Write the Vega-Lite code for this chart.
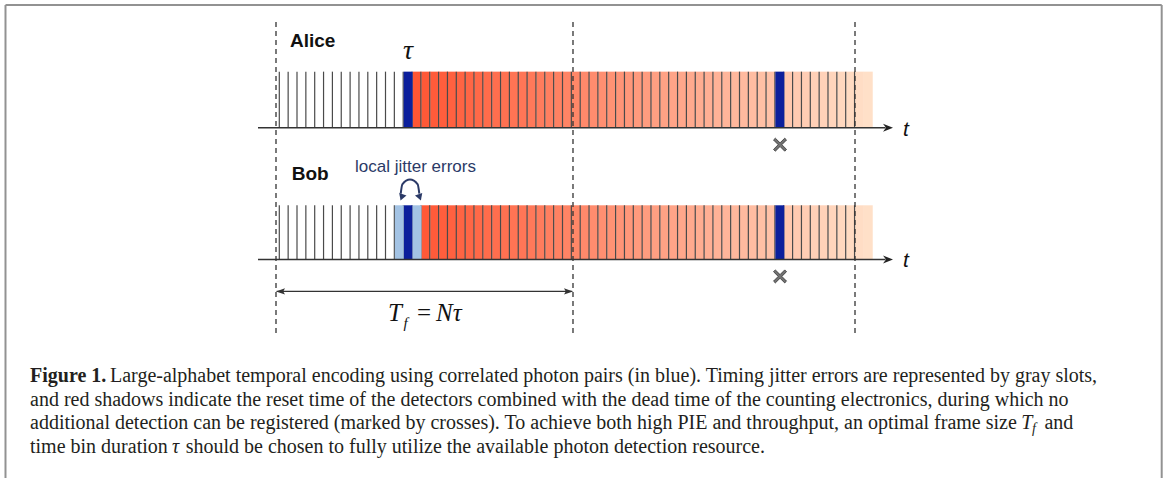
{
"$schema":"https://vega.github.io/schema/vega-lite/v6.json",
"width":1168,"height":479,"padding":0,
"autosize":{"type":"fit","contains":"padding"},
"background":"white",
"config":{"view":{"stroke":null}},
"data":{"values":[
{"r":"A","t":0,"k":"w"},{"r":"A","t":1,"k":"w"},{"r":"A","t":2,"k":"w"},{"r":"A","t":3,"k":"w"},{"r":"A","t":4,"k":"w"},{"r":"A","t":5,"k":"w"},{"r":"A","t":6,"k":"w"},{"r":"A","t":7,"k":"w"},{"r":"A","t":8,"k":"w"},{"r":"A","t":9,"k":"w"},{"r":"A","t":10,"k":"w"},{"r":"A","t":11,"k":"w"},{"r":"A","t":12,"k":"w"},{"r":"A","t":13,"k":"w"},{"r":"A","t":14,"k":"b"},
{"r":"A","t":15,"k":"r"},{"r":"A","t":16,"k":"r"},{"r":"A","t":17,"k":"r"},{"r":"A","t":18,"k":"r"},{"r":"A","t":19,"k":"r"},{"r":"A","t":20,"k":"r"},{"r":"A","t":21,"k":"r"},{"r":"A","t":22,"k":"r"},{"r":"A","t":23,"k":"r"},{"r":"A","t":24,"k":"r"},{"r":"A","t":25,"k":"r"},{"r":"A","t":26,"k":"r"},{"r":"A","t":27,"k":"r"},{"r":"A","t":28,"k":"r"},{"r":"A","t":29,"k":"r"},{"r":"A","t":30,"k":"r"},{"r":"A","t":31,"k":"r"},{"r":"A","t":32,"k":"r"},{"r":"A","t":33,"k":"r"},{"r":"A","t":34,"k":"r"},{"r":"A","t":35,"k":"r"},{"r":"A","t":36,"k":"r"},{"r":"A","t":37,"k":"r"},{"r":"A","t":38,"k":"r"},{"r":"A","t":39,"k":"r"},{"r":"A","t":40,"k":"r"},{"r":"A","t":41,"k":"r"},{"r":"A","t":42,"k":"r"},{"r":"A","t":43,"k":"r"},{"r":"A","t":44,"k":"r"},{"r":"A","t":45,"k":"r"},{"r":"A","t":46,"k":"r"},{"r":"A","t":47,"k":"r"},{"r":"A","t":48,"k":"r"},{"r":"A","t":49,"k":"r"},{"r":"A","t":50,"k":"r"},{"r":"A","t":51,"k":"r"},{"r":"A","t":52,"k":"r"},{"r":"A","t":53,"k":"r"},{"r":"A","t":54,"k":"r"},{"r":"A","t":55,"k":"r"},{"r":"A","t":56,"k":"b"},{"r":"A","t":57,"k":"r"},{"r":"A","t":58,"k":"r"},{"r":"A","t":59,"k":"r"},{"r":"A","t":60,"k":"r"},{"r":"A","t":61,"k":"r"},{"r":"A","t":62,"k":"r"},{"r":"A","t":63,"k":"r"},{"r":"A","t":64,"k":"r"},{"r":"A","t":65,"k":"r"},{"r":"A","t":66,"k":"r"},
{"r":"B","t":0,"k":"w"},{"r":"B","t":1,"k":"w"},{"r":"B","t":2,"k":"w"},{"r":"B","t":3,"k":"w"},{"r":"B","t":4,"k":"w"},{"r":"B","t":5,"k":"w"},{"r":"B","t":6,"k":"w"},{"r":"B","t":7,"k":"w"},{"r":"B","t":8,"k":"w"},{"r":"B","t":9,"k":"w"},{"r":"B","t":10,"k":"w"},{"r":"B","t":11,"k":"w"},{"r":"B","t":12,"k":"w"},{"r":"B","t":13,"k":"l"},{"r":"B","t":14,"k":"b"},{"r":"B","t":15,"k":"l"},
{"r":"B","t":16,"k":"r"},{"r":"B","t":17,"k":"r"},{"r":"B","t":18,"k":"r"},{"r":"B","t":19,"k":"r"},{"r":"B","t":20,"k":"r"},{"r":"B","t":21,"k":"r"},{"r":"B","t":22,"k":"r"},{"r":"B","t":23,"k":"r"},{"r":"B","t":24,"k":"r"},{"r":"B","t":25,"k":"r"},{"r":"B","t":26,"k":"r"},{"r":"B","t":27,"k":"r"},{"r":"B","t":28,"k":"r"},{"r":"B","t":29,"k":"r"},{"r":"B","t":30,"k":"r"},{"r":"B","t":31,"k":"r"},{"r":"B","t":32,"k":"r"},{"r":"B","t":33,"k":"r"},{"r":"B","t":34,"k":"r"},{"r":"B","t":35,"k":"r"},{"r":"B","t":36,"k":"r"},{"r":"B","t":37,"k":"r"},{"r":"B","t":38,"k":"r"},{"r":"B","t":39,"k":"r"},{"r":"B","t":40,"k":"r"},{"r":"B","t":41,"k":"r"},{"r":"B","t":42,"k":"r"},{"r":"B","t":43,"k":"r"},{"r":"B","t":44,"k":"r"},{"r":"B","t":45,"k":"r"},{"r":"B","t":46,"k":"r"},{"r":"B","t":47,"k":"r"},{"r":"B","t":48,"k":"r"},{"r":"B","t":49,"k":"r"},{"r":"B","t":50,"k":"r"},{"r":"B","t":51,"k":"r"},{"r":"B","t":52,"k":"r"},{"r":"B","t":53,"k":"r"},{"r":"B","t":54,"k":"r"},{"r":"B","t":55,"k":"r"},{"r":"B","t":56,"k":"b"},{"r":"B","t":57,"k":"r"},{"r":"B","t":58,"k":"r"},{"r":"B","t":59,"k":"r"},{"r":"B","t":60,"k":"r"},{"r":"B","t":61,"k":"r"},{"r":"B","t":62,"k":"r"},{"r":"B","t":63,"k":"r"},{"r":"B","t":64,"k":"r"},{"r":"B","t":65,"k":"r"},{"r":"B","t":66,"k":"r"}
]},
"layer":[
{"data":{"values":[{"s":"frame"}]},"mark":{"type":"rule","color":"#929292","strokeWidth":2},
 "encoding":{"x":{"datum":-30.938,"type":"quantitative","scale":{"domain":[-31.5593,100.418],"nice":false,"zero":false},"axis":null},"x2":{"datum":99.706},"y":{"datum":2.236,"type":"quantitative","scale":{"domain":[-6.3818,2.3273],"nice":false,"zero":false},"axis":null}}},
{"data":{"values":[{"t":-30.938},{"t":99.706}]},"mark":{"type":"rule","color":"#929292","strokeWidth":2},
 "encoding":{"x":{"field":"t","type":"quantitative","scale":{"domain":[-31.5593,100.418],"nice":false,"zero":false},"axis":null},"y":{"datum":2.236,"type":"quantitative","scale":{"domain":[-6.3818,2.3273],"nice":false,"zero":false},"axis":null},"y2":{"datum":-6.38}}},
{"transform":[{"filter":{"and":[{"field":"r","equal":"A"},{"field":"k","equal":"r"}]}}],
 "mark":{"type":"rect","binSpacing":0},
 "encoding":{"x":{"field":"t","type":"quantitative","bin":{"binned":true,"step":1},"scale":{"domain":[-31.5593,100.418],"nice":false,"zero":false},"axis":null},
  "y":{"datum":0,"type":"quantitative","scale":{"domain":[-6.3818,2.3273],"nice":false,"zero":false},"axis":null},"y2":{"datum":1.022},
  "color":{"field":"t","type":"quantitative","scale":{"domain":[15,66],"range":["#ff5634","#ffe0c8"],"interpolate":"rgb"},"legend":null}}},
{"transform":[{"filter":{"and":[{"field":"r","equal":"B"},{"field":"k","equal":"r"}]}}],
 "mark":{"type":"rect","binSpacing":0},
 "encoding":{"x":{"field":"t","type":"quantitative","bin":{"binned":true,"step":1},"scale":{"domain":[-31.5593,100.418],"nice":false,"zero":false},"axis":null},
  "y":{"datum":-2.4,"type":"quantitative","scale":{"domain":[-6.3818,2.3273],"nice":false,"zero":false},"axis":null},"y2":{"datum":-1.413},
  "color":{"field":"t","type":"quantitative","scale":{"domain":[15,66],"range":["#ff5634","#ffe0c8"],"interpolate":"rgb"},"legend":null}}},
{"transform":[{"filter":{"and":[{"field":"r","equal":"A"},{"field":"t","lte":65}]}}],
 "mark":{"type":"rule","color":"#4a4a4a","strokeWidth":1.2},
 "encoding":{"x":{"field":"t","type":"quantitative","scale":{"domain":[-31.5593,100.418],"nice":false,"zero":false},"axis":null},
  "y":{"datum":0,"type":"quantitative","scale":{"domain":[-6.3818,2.3273],"nice":false,"zero":false},"axis":null},"y2":{"datum":1.022}}},
{"transform":[{"filter":{"and":[{"field":"r","equal":"B"},{"field":"t","lte":65}]}}],
 "mark":{"type":"rule","color":"#4a4a4a","strokeWidth":1.2},
 "encoding":{"x":{"field":"t","type":"quantitative","scale":{"domain":[-31.5593,100.418],"nice":false,"zero":false},"axis":null},
  "y":{"datum":-2.4,"type":"quantitative","scale":{"domain":[-6.3818,2.3273],"nice":false,"zero":false},"axis":null},"y2":{"datum":-1.413}}},
{"transform":[{"filter":{"and":[{"field":"r","equal":"A"},{"field":"k","equal":"b"}]}}],
 "mark":{"type":"rect","binSpacing":0,"color":"#0c1f9c"},
 "encoding":{"x":{"field":"t","type":"quantitative","bin":{"binned":true,"step":1},"scale":{"domain":[-31.5593,100.418],"nice":false,"zero":false},"axis":null},
  "y":{"datum":0,"type":"quantitative","scale":{"domain":[-6.3818,2.3273],"nice":false,"zero":false},"axis":null},"y2":{"datum":1.022}}},
{"transform":[{"filter":{"and":[{"field":"r","equal":"B"},{"field":"k","equal":"b"}]}}],
 "mark":{"type":"rect","binSpacing":0,"color":"#0c1f9c"},
 "encoding":{"x":{"field":"t","type":"quantitative","bin":{"binned":true,"step":1},"scale":{"domain":[-31.5593,100.418],"nice":false,"zero":false},"axis":null},
  "y":{"datum":-2.4,"type":"quantitative","scale":{"domain":[-6.3818,2.3273],"nice":false,"zero":false},"axis":null},"y2":{"datum":-1.413}}},
{"transform":[{"filter":{"and":[{"field":"r","equal":"B"},{"field":"k","equal":"l"}]}}],
 "mark":{"type":"rect","binSpacing":0,"color":"#a3c3e4"},
 "encoding":{"x":{"field":"t","type":"quantitative","bin":{"binned":true,"step":1},"scale":{"domain":[-31.5593,100.418],"nice":false,"zero":false},"axis":null},
  "y":{"datum":-2.4,"type":"quantitative","scale":{"domain":[-6.3818,2.3273],"nice":false,"zero":false},"axis":null},"y2":{"datum":-1.413}}},
{"data":{"values":[{"t":-0.373},{"t":33.186},{"t":65.051}]},"mark":{"type":"rule","color":"#333333","strokeWidth":1.3,"strokeDash":[5,4]},
 "encoding":{"x":{"field":"t","type":"quantitative","scale":{"domain":[-31.5593,100.418],"nice":false,"zero":false},"axis":null},
  "y":{"datum":1.927,"type":"quantitative","scale":{"domain":[-6.3818,2.3273],"nice":false,"zero":false},"axis":null},"y2":{"datum":-3.764}}},
{"data":{"values":[{"s":"Alice axis"}]},"mark":{"type":"rule","color":"#333333","strokeWidth":1.5},
 "encoding":{"x":{"datum":-2.407,"type":"quantitative","scale":{"domain":[-31.5593,100.418],"nice":false,"zero":false},"axis":null},"x2":{"datum":68.5},"y":{"datum":0,"type":"quantitative","scale":{"domain":[-6.3818,2.3273],"nice":false,"zero":false},"axis":null}}},
{"data":{"values":[{"s":"Bob axis"}]},"mark":{"type":"rule","color":"#333333","strokeWidth":1.5},
 "encoding":{"x":{"datum":-2.407,"type":"quantitative","scale":{"domain":[-31.5593,100.418],"nice":false,"zero":false},"axis":null},"x2":{"datum":68.5},"y":{"datum":-2.4,"type":"quantitative","scale":{"domain":[-6.3818,2.3273],"nice":false,"zero":false},"axis":null}}},
{"data":{"values":[{"s":"Alice arrow"}]},"mark":{"type":"point","filled":true,"opacity":1,"color":"#222222","shape":"M1,0L-1,-0.8L-0.4,0L-1,0.8Z","size":100},
 "encoding":{"x":{"datum":68.78,"type":"quantitative","scale":{"domain":[-31.5593,100.418],"nice":false,"zero":false},"axis":null},"y":{"datum":0,"type":"quantitative","scale":{"domain":[-6.3818,2.3273],"nice":false,"zero":false},"axis":null}}},
{"data":{"values":[{"s":"Bob arrow"}]},"mark":{"type":"point","filled":true,"opacity":1,"color":"#222222","shape":"M1,0L-1,-0.8L-0.4,0L-1,0.8Z","size":100},
 "encoding":{"x":{"datum":68.78,"type":"quantitative","scale":{"domain":[-31.5593,100.418],"nice":false,"zero":false},"axis":null},"y":{"datum":-2.4,"type":"quantitative","scale":{"domain":[-6.3818,2.3273],"nice":false,"zero":false},"axis":null}}},
{"data":{"values":[{"s":"t"}]},"mark":{"type":"text","font":"Liberation Sans","fontStyle":"italic","fontSize":21,"align":"center","baseline":"alphabetic","color":"#111111"},
 "encoding":{"x":{"datum":70.8,"type":"quantitative","scale":{"domain":[-31.5593,100.418],"nice":false,"zero":false},"axis":null},"y":{"datum":-0.145,"type":"quantitative","scale":{"domain":[-6.3818,2.3273],"nice":false,"zero":false},"axis":null},"text":{"field":"s"}}},
{"data":{"values":[{"s":"t"}]},"mark":{"type":"text","font":"Liberation Sans","fontStyle":"italic","fontSize":21,"align":"center","baseline":"alphabetic","color":"#111111"},
 "encoding":{"x":{"datum":70.8,"type":"quantitative","scale":{"domain":[-31.5593,100.418],"nice":false,"zero":false},"axis":null},"y":{"datum":-2.545,"type":"quantitative","scale":{"domain":[-6.3818,2.3273],"nice":false,"zero":false},"axis":null},"text":{"field":"s"}}},
{"data":{"values":[{"s":"Alice"}]},"mark":{"type":"text","font":"Liberation Sans","fontWeight":"bold","fontSize":19,"align":"left","baseline":"alphabetic","color":"#111111"},
 "encoding":{"x":{"datum":1.209,"type":"quantitative","scale":{"domain":[-31.5593,100.418],"nice":false,"zero":false},"axis":null},"y":{"datum":1.467,"type":"quantitative","scale":{"domain":[-6.3818,2.3273],"nice":false,"zero":false},"axis":null},"text":{"field":"s"}}},
{"data":{"values":[{"s":"Bob"}]},"mark":{"type":"text","font":"Liberation Sans","fontWeight":"bold","fontSize":19,"align":"left","baseline":"alphabetic","color":"#111111"},
 "encoding":{"x":{"datum":1.401,"type":"quantitative","scale":{"domain":[-31.5593,100.418],"nice":false,"zero":false},"axis":null},"y":{"datum":-0.945,"type":"quantitative","scale":{"domain":[-6.3818,2.3273],"nice":false,"zero":false},"axis":null},"text":{"field":"s"}}},
{"data":{"values":[{"s":"τ"}]},"mark":{"type":"text","font":"Liberation Serif","fontStyle":"italic","fontSize":28,"align":"center","baseline":"alphabetic","color":"#111111"},
 "encoding":{"x":{"datum":14.542,"type":"quantitative","scale":{"domain":[-31.5593,100.418],"nice":false,"zero":false},"axis":null},"y":{"datum":1.2545,"type":"quantitative","scale":{"domain":[-6.3818,2.3273],"nice":false,"zero":false},"axis":null},"text":{"field":"s"}}},
{"data":{"values":[{"s":"local jitter errors"}]},"mark":{"type":"text","font":"Liberation Sans","fontSize":17,"align":"left","baseline":"alphabetic","color":"#2b3a67"},
 "encoding":{"x":{"datum":8.554,"type":"quantitative","scale":{"domain":[-31.5593,100.418],"nice":false,"zero":false},"axis":null},"y":{"datum":-0.805,"type":"quantitative","scale":{"domain":[-6.3818,2.3273],"nice":false,"zero":false},"axis":null},"text":{"field":"s"}}},
{"data":{"values":[{"t":13.72,"v":-1.2},{"t":13.9,"v":-1.03},{"t":14.768,"v":-0.945},{"t":15.64,"v":-1.03},{"t":15.82,"v":-1.2}]},
 "mark":{"type":"line","color":"#2b3a67","strokeWidth":2,"interpolate":"monotone"},
 "encoding":{"x":{"field":"t","type":"quantitative","scale":{"domain":[-31.5593,100.418],"nice":false,"zero":false},"axis":null},"y":{"field":"v","type":"quantitative","scale":{"domain":[-6.3818,2.3273],"nice":false,"zero":false},"axis":null},"order":{"field":"t"}}},
{"data":{"values":[{"s":"left head"}]},"mark":{"type":"point","filled":true,"opacity":1,"color":"#2b3a67","shape":"triangle-down","size":60,"angle":20},
 "encoding":{"x":{"datum":13.83,"type":"quantitative","scale":{"domain":[-31.5593,100.418],"nice":false,"zero":false},"axis":null},"y":{"datum":-1.27,"type":"quantitative","scale":{"domain":[-6.3818,2.3273],"nice":false,"zero":false},"axis":null}}},
{"data":{"values":[{"s":"right head"}]},"mark":{"type":"point","filled":true,"opacity":1,"color":"#2b3a67","shape":"triangle-down","size":60,"angle":-20},
 "encoding":{"x":{"datum":15.87,"type":"quantitative","scale":{"domain":[-31.5593,100.418],"nice":false,"zero":false},"axis":null},"y":{"datum":-1.27,"type":"quantitative","scale":{"domain":[-6.3818,2.3273],"nice":false,"zero":false},"axis":null}}},
{"data":{"values":[{"s":"Alice cross"}]},"mark":{"type":"point","filled":true,"opacity":1,"fill":"#727272","stroke":"#333333","strokeWidth":0.8,"shape":"M-1,-0.72L-0.72,-1L0,-0.28L0.72,-1L1,-0.72L0.28,0L1,0.72L0.72,1L0,0.28L-0.72,1L-1,0.72L-0.28,0Z","size":170},
 "encoding":{"x":{"datum":56.58,"type":"quantitative","scale":{"domain":[-31.5593,100.418],"nice":false,"zero":false},"axis":null},"y":{"datum":-0.309,"type":"quantitative","scale":{"domain":[-6.3818,2.3273],"nice":false,"zero":false},"axis":null}}},
{"data":{"values":[{"s":"Bob cross"}]},"mark":{"type":"point","filled":true,"opacity":1,"fill":"#727272","stroke":"#333333","strokeWidth":0.8,"shape":"M-1,-0.72L-0.72,-1L0,-0.28L0.72,-1L1,-0.72L0.28,0L1,0.72L0.72,1L0,0.28L-0.72,1L-1,0.72L-0.28,0Z","size":170},
 "encoding":{"x":{"datum":56.58,"type":"quantitative","scale":{"domain":[-31.5593,100.418],"nice":false,"zero":false},"axis":null},"y":{"datum":-2.709,"type":"quantitative","scale":{"domain":[-6.3818,2.3273],"nice":false,"zero":false},"axis":null}}},
{"data":{"values":[{"s":"Tf"}]},"mark":{"type":"rule","color":"#333333","strokeWidth":1.3},
 "encoding":{"x":{"datum":-0.3,"type":"quantitative","scale":{"domain":[-31.5593,100.418],"nice":false,"zero":false},"axis":null},"x2":{"datum":33.1},"y":{"datum":-2.982,"type":"quantitative","scale":{"domain":[-6.3818,2.3273],"nice":false,"zero":false},"axis":null}}},
{"data":{"values":[{"s":"Tf left"}]},"mark":{"type":"point","filled":true,"opacity":1,"color":"#333333","shape":"M-1,0L1,-0.7L0.6,0L1,0.7Z","size":81},
 "encoding":{"x":{"datum":0.136,"type":"quantitative","scale":{"domain":[-31.5593,100.418],"nice":false,"zero":false},"axis":null},"y":{"datum":-2.982,"type":"quantitative","scale":{"domain":[-6.3818,2.3273],"nice":false,"zero":false},"axis":null}}},
{"data":{"values":[{"s":"Tf right"}]},"mark":{"type":"point","filled":true,"opacity":1,"color":"#333333","shape":"M1,0L-1,-0.7L-0.6,0L-1,0.7Z","size":81},
 "encoding":{"x":{"datum":32.678,"type":"quantitative","scale":{"domain":[-31.5593,100.418],"nice":false,"zero":false},"axis":null},"y":{"datum":-2.982,"type":"quantitative","scale":{"domain":[-6.3818,2.3273],"nice":false,"zero":false},"axis":null}}},
{"data":{"values":[{"s":"T"}]},"mark":{"type":"text","font":"Liberation Serif","fontStyle":"italic","fontSize":25,"align":"left","baseline":"alphabetic","color":"#111111"},
 "encoding":{"x":{"datum":12.282,"type":"quantitative","scale":{"domain":[-31.5593,100.418],"nice":false,"zero":false},"axis":null},"y":{"datum":-3.522,"type":"quantitative","scale":{"domain":[-6.3818,2.3273],"nice":false,"zero":false},"axis":null},"text":{"field":"s"}}},
{"data":{"values":[{"s":"f"}]},"mark":{"type":"text","font":"Liberation Serif","fontStyle":"italic","fontSize":15,"align":"left","baseline":"alphabetic","color":"#111111"},
 "encoding":{"x":{"datum":14.034,"type":"quantitative","scale":{"domain":[-31.5593,100.418],"nice":false,"zero":false},"axis":null},"y":{"datum":-3.64,"type":"quantitative","scale":{"domain":[-6.3818,2.3273],"nice":false,"zero":false},"axis":null},"text":{"field":"s"}}},
{"data":{"values":[{"s":"="}]},"mark":{"type":"text","font":"Liberation Serif","fontSize":25,"align":"left","baseline":"alphabetic","color":"#111111"},
 "encoding":{"x":{"datum":15.559,"type":"quantitative","scale":{"domain":[-31.5593,100.418],"nice":false,"zero":false},"axis":null},"y":{"datum":-3.522,"type":"quantitative","scale":{"domain":[-6.3818,2.3273],"nice":false,"zero":false},"axis":null},"text":{"field":"s"}}},
{"data":{"values":[{"s":"Nτ"}]},"mark":{"type":"text","font":"Liberation Serif","fontStyle":"italic","fontSize":25,"align":"left","baseline":"alphabetic","color":"#111111"},
 "encoding":{"x":{"datum":17.706,"type":"quantitative","scale":{"domain":[-31.5593,100.418],"nice":false,"zero":false},"axis":null},"y":{"datum":-3.522,"type":"quantitative","scale":{"domain":[-6.3818,2.3273],"nice":false,"zero":false},"axis":null},"text":{"field":"s"}}},
{"data":{"values":[{"s":"Figure 1."}]},"mark":{"type":"text","font":"Liberation Serif","fontWeight":"bold","fontSize":20,"align":"left","baseline":"alphabetic","color":"#231f20"},
 "encoding":{"x":{"datum":-28.169,"type":"quantitative","scale":{"domain":[-31.5593,100.418],"nice":false,"zero":false},"axis":null},"y":{"datum":-4.636,"type":"quantitative","scale":{"domain":[-6.3818,2.3273],"nice":false,"zero":false},"axis":null},"text":{"field":"s"}}},
{"data":{"values":[{"s":"Large-alphabet temporal encoding using correlated photon pairs (in blue). Timing jitter errors are represented by gray slots,"}]},"mark":{"type":"text","font":"Liberation Serif","fontSize":20,"align":"left","baseline":"alphabetic","color":"#231f20"},
 "encoding":{"x":{"datum":-19.13,"type":"quantitative","scale":{"domain":[-31.5593,100.418],"nice":false,"zero":false},"axis":null},"y":{"datum":-4.636,"type":"quantitative","scale":{"domain":[-6.3818,2.3273],"nice":false,"zero":false},"axis":null},"text":{"field":"s"}}},
{"data":{"values":[{"s":"and red shadows indicate the reset time of the detectors combined with the dead time of the counting electronics, during which no"}]},"mark":{"type":"text","font":"Liberation Serif","fontSize":20,"align":"left","baseline":"alphabetic","color":"#231f20"},
 "encoding":{"x":{"datum":-28.169,"type":"quantitative","scale":{"domain":[-31.5593,100.418],"nice":false,"zero":false},"axis":null},"y":{"datum":-5.067,"type":"quantitative","scale":{"domain":[-6.3818,2.3273],"nice":false,"zero":false},"axis":null},"text":{"field":"s"}}},
{"data":{"values":[{"s":"additional detection can be registered (marked by crosses). To achieve both high PIE and throughput, an optimal frame size"}]},"mark":{"type":"text","font":"Liberation Serif","fontSize":20,"align":"left","baseline":"alphabetic","color":"#231f20"},
 "encoding":{"x":{"datum":-28.169,"type":"quantitative","scale":{"domain":[-31.5593,100.418],"nice":false,"zero":false},"axis":null},"y":{"datum":-5.496,"type":"quantitative","scale":{"domain":[-6.3818,2.3273],"nice":false,"zero":false},"axis":null},"text":{"field":"s"}}},
{"data":{"values":[{"s":"T"}]},"mark":{"type":"text","font":"Liberation Serif","fontStyle":"italic","fontSize":20,"align":"left","baseline":"alphabetic","color":"#231f20"},
 "encoding":{"x":{"datum":83.85,"type":"quantitative","scale":{"domain":[-31.5593,100.418],"nice":false,"zero":false},"axis":null},"y":{"datum":-5.496,"type":"quantitative","scale":{"domain":[-6.3818,2.3273],"nice":false,"zero":false},"axis":null},"text":{"field":"s"}}},
{"data":{"values":[{"s":"f"}]},"mark":{"type":"text","font":"Liberation Serif","fontStyle":"italic","fontSize":14,"align":"left","baseline":"alphabetic","color":"#231f20"},
 "encoding":{"x":{"datum":85.04,"type":"quantitative","scale":{"domain":[-31.5593,100.418],"nice":false,"zero":false},"axis":null},"y":{"datum":-5.569,"type":"quantitative","scale":{"domain":[-6.3818,2.3273],"nice":false,"zero":false},"axis":null},"text":{"field":"s"}}},
{"data":{"values":[{"s":"and"}]},"mark":{"type":"text","font":"Liberation Serif","fontSize":20,"align":"left","baseline":"alphabetic","color":"#231f20"},
 "encoding":{"x":{"datum":86.45,"type":"quantitative","scale":{"domain":[-31.5593,100.418],"nice":false,"zero":false},"axis":null},"y":{"datum":-5.496,"type":"quantitative","scale":{"domain":[-6.3818,2.3273],"nice":false,"zero":false},"axis":null},"text":{"field":"s"}}},
{"data":{"values":[{"s":"time bin duration"}]},"mark":{"type":"text","font":"Liberation Serif","fontSize":20,"align":"left","baseline":"alphabetic","color":"#231f20"},
 "encoding":{"x":{"datum":-28.169,"type":"quantitative","scale":{"domain":[-31.5593,100.418],"nice":false,"zero":false},"axis":null},"y":{"datum":-5.927,"type":"quantitative","scale":{"domain":[-6.3818,2.3273],"nice":false,"zero":false},"axis":null},"text":{"field":"s"}}},
{"data":{"values":[{"s":"τ"}]},"mark":{"type":"text","font":"Liberation Serif","fontStyle":"italic","fontSize":20,"align":"left","baseline":"alphabetic","color":"#231f20"},
 "encoding":{"x":{"datum":-12.124,"type":"quantitative","scale":{"domain":[-31.5593,100.418],"nice":false,"zero":false},"axis":null},"y":{"datum":-5.927,"type":"quantitative","scale":{"domain":[-6.3818,2.3273],"nice":false,"zero":false},"axis":null},"text":{"field":"s"}}},
{"data":{"values":[{"s":"should be chosen to fully utilize the available photon detection resource."}]},"mark":{"type":"text","font":"Liberation Serif","fontSize":20,"align":"left","baseline":"alphabetic","color":"#231f20"},
 "encoding":{"x":{"datum":-10.576,"type":"quantitative","scale":{"domain":[-31.5593,100.418],"nice":false,"zero":false},"axis":null},"y":{"datum":-5.927,"type":"quantitative","scale":{"domain":[-6.3818,2.3273],"nice":false,"zero":false},"axis":null},"text":{"field":"s"}}}
]
}
